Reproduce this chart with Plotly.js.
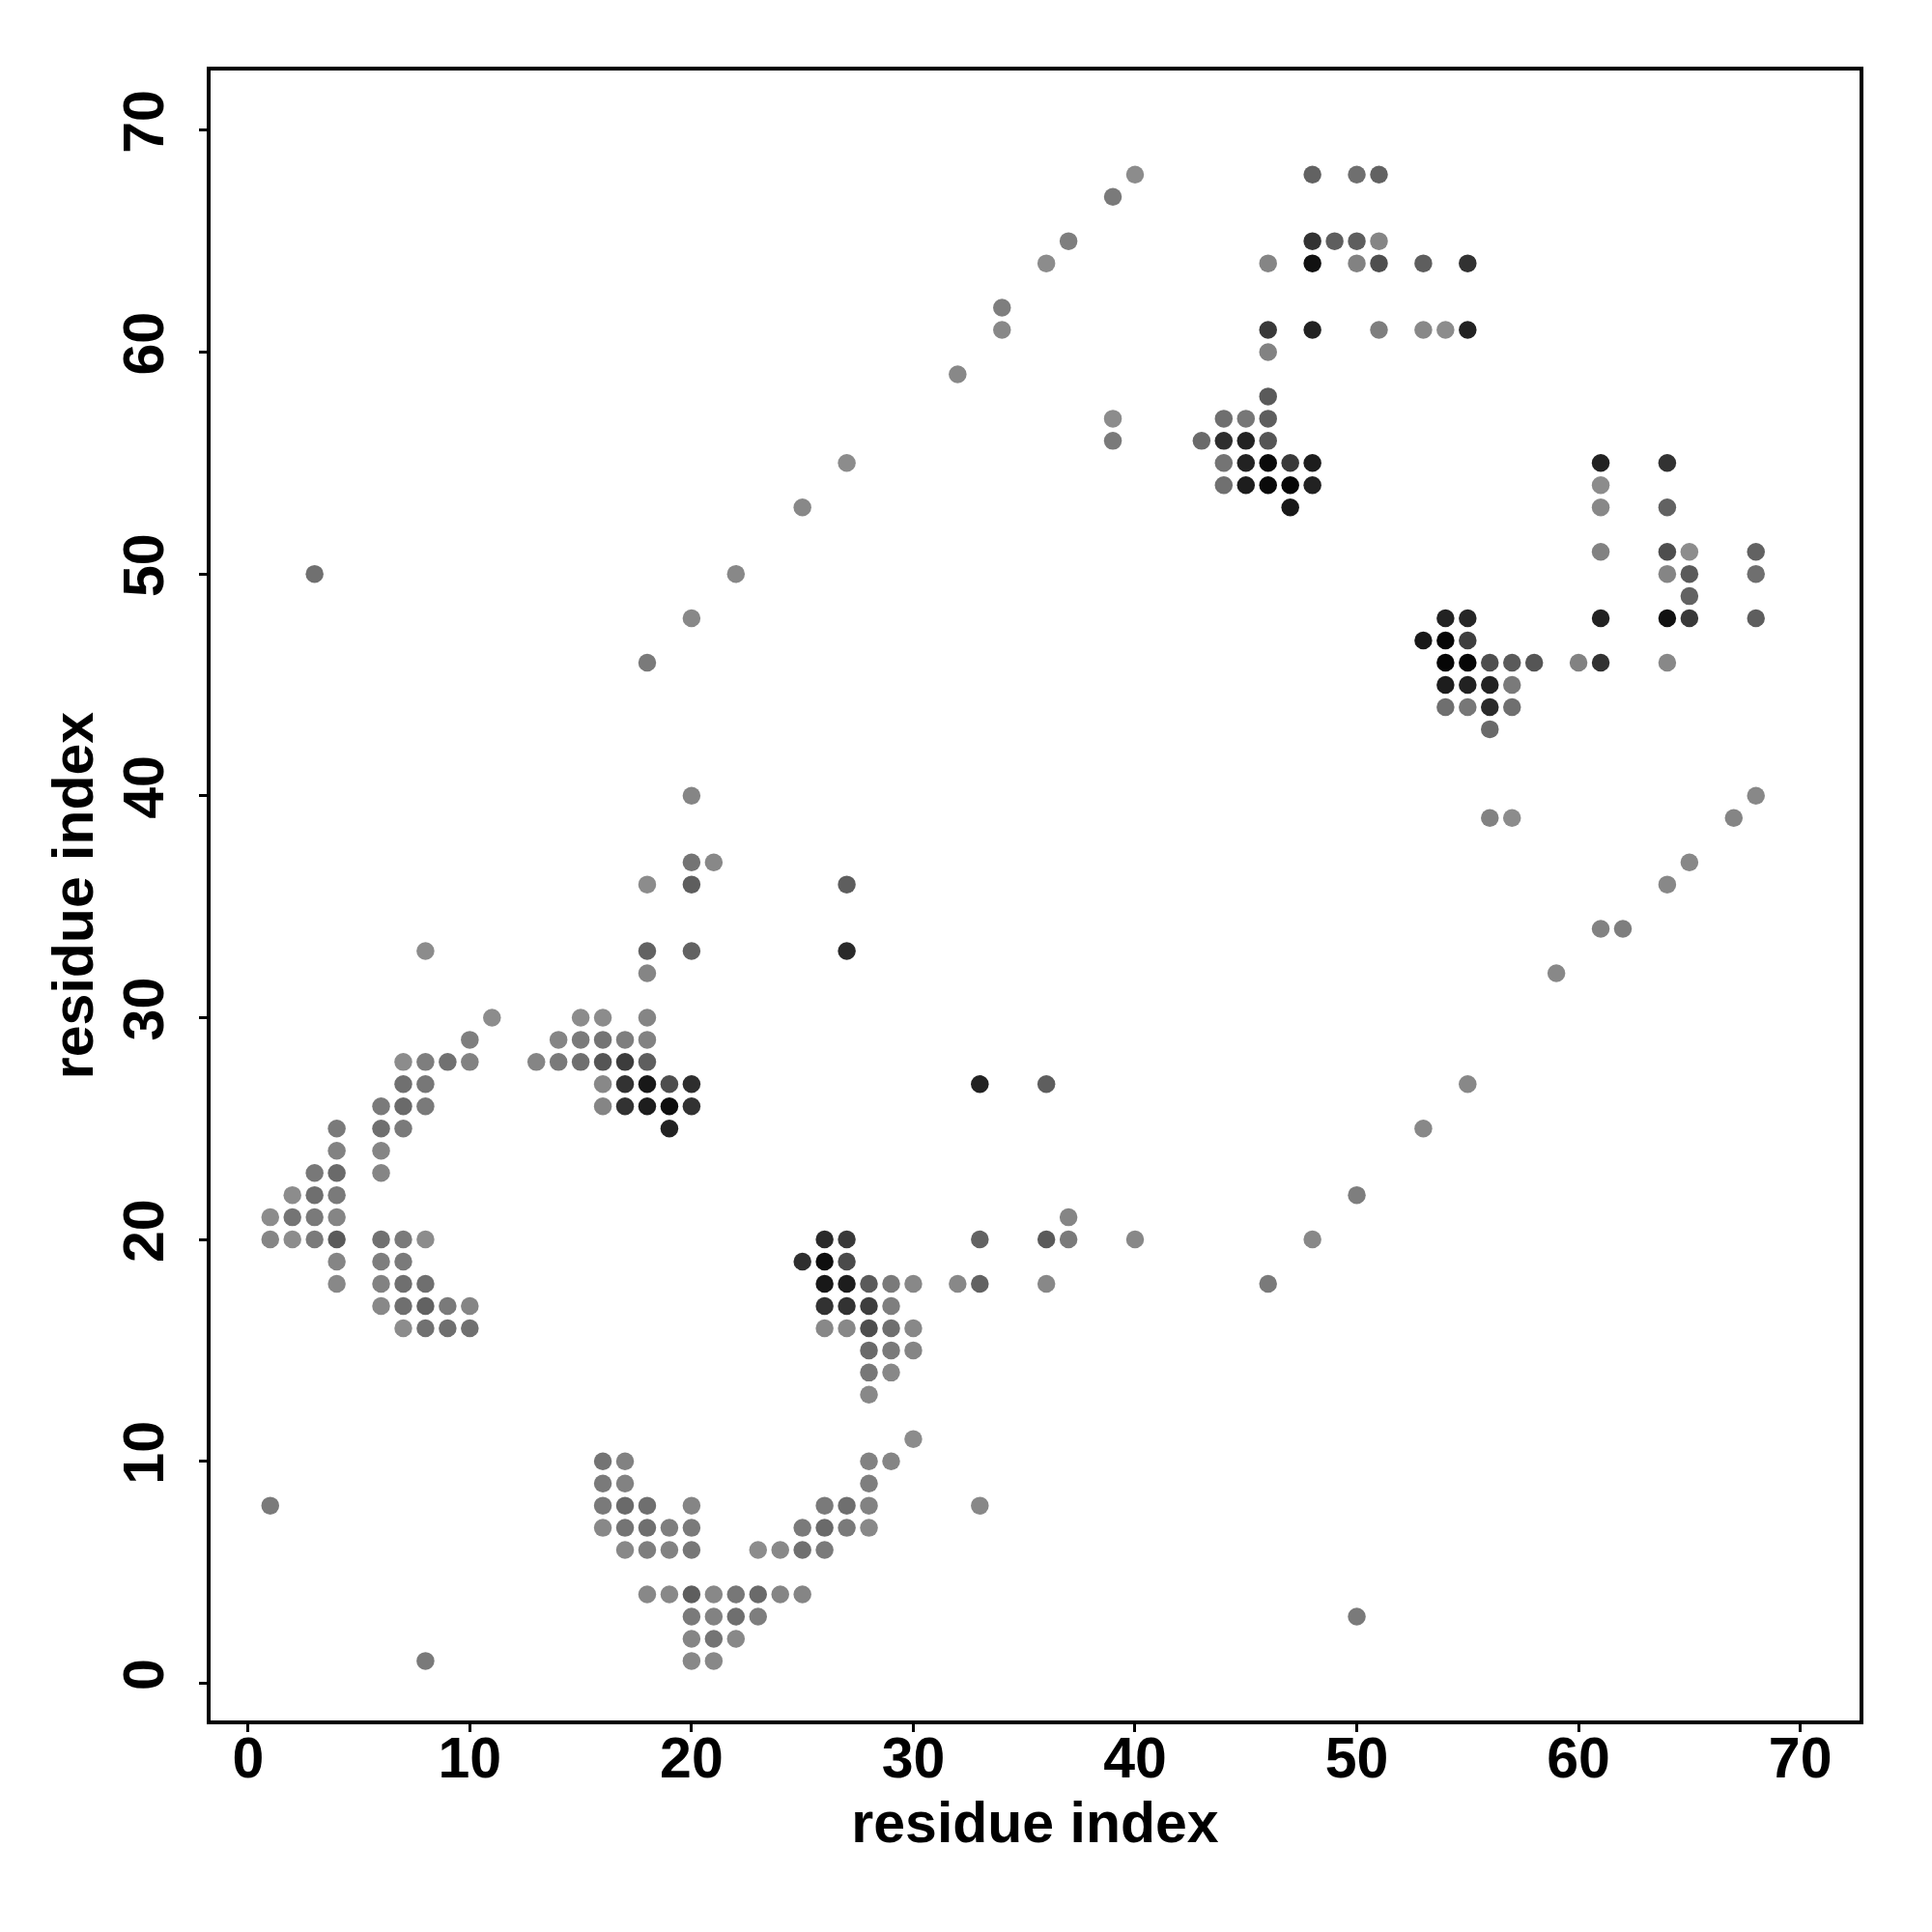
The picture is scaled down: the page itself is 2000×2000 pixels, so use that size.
<!DOCTYPE html>
<html>
<head>
<meta charset="utf-8">
<script src="https://cdn.plot.ly/plotly-3.0.1.min.js"></script>
<style>html,body{margin:0;padding:0;background:#fff;}</style>
</head>
<body>
<div id="chart" style="width:2000px;height:2000px;"></div>
<script>
// residue i (x), residue j (y), contact strength (0 = weak/light, 1 = strong/dark)
const resX = [
  8,11,10, 7,8,9,10, 7,8, 6,7,8, 4,6,7, 4,6, 3,4,6, 2,3,4, 1,2,3,4, 1,2,3,4,6,7,8, 4,6,7, 4,6,7,8, 6,7,8,9,10, 7,8,9,10,
  20, 20,21, 18,20, 18,20, 18, 15,16,18, 14,15,16,17,18, 13,14,15,16,17,18, 16,17,18,19,20, 16,17,18,19,20, 19,
  30, 16,17,28,29, 16,17,28, 16,17,18,20,26,27,28, 16,17,18,19,20,25,26,27,28, 17,18,19,20,23,24,25,26, 18,19,20,21,22,23,24,25, 20,21,22,23, 20,21,22, 20,21,
  33,36, 37, 26,27,33,36,37, 25,26,27, 26,27,28,29,30,32,33,36, 26,27,28,29, 26,27,28,29,30, 28,29,30, 28,29, 28,
  48,50,51, 48,49,50,51, 46,48,50,51,53,55, 46,48,51,53,54,55, 46, 46, 44,45,46, 43,44,45,46, 44,45,46,47,48, 44,45,46,47,48, 47,
  61,64, 61, 61,64, 61,64,65,68, 64,65,68, 65, 61,64,65,68, 54,55, 53,54,55, 54,55,56,57,58,60,61,64, 54,55,56,57, 54,55,56,57, 56, 68,67,56,57,
  18,20,22,25,27,32,34,34,36,37,39,40,39,39,
  40,48,46,50,53,55,59,61,62,64,65,
  3,1,8,33,50,27,27
];
const resY = [
  33,30,29, 28,28,28,28, 27,27, 26,26,26, 25,25,25, 24,24, 23,23,23, 22,22,22, 21,21,21,21, 20,20,20,20,20,20,20, 19,19,19, 18,18,18,18, 17,17,17,17,17, 16,16,16,16,
  40, 37,37, 36,36, 33,33, 32, 30,30,30, 29,29,29,29,29, 28,28,28,28,28,28, 27,27,27,27,27, 26,26,26,26,26, 25,
  11, 10,10,10,10, 9,9,9, 8,8,8,8,8,8,8, 7,7,7,7,7,7,7,7,7, 6,6,6,6,6,6,6,6, 4,4,4,4,4,4,4,4, 3,3,3,3, 2,2,2, 1,1,
  27,27, 21, 20,20,20,20,20, 19,19,19, 18,18,18,18,18,18,18,18, 17,17,17,17, 16,16,16,16,16, 15,15,15, 14,14, 13,
  68,68,68, 65,65,65,65, 64,64,64,64,64,64, 61,61,61,61,61,61, 60, 58, 57,57,57, 56,56,56,56, 55,55,55,55,55, 54,54,54,54,54, 53,
  55,55, 54, 53,53, 51,51,51,51, 50,50,50, 49, 48,48,48,48, 48,48, 47,47,47, 46,46,46,46,46,46,46,46, 45,45,45,45, 44,44,44,44, 43, 40,39,39,39,
  46,48,50,53,55,59,61,62,64,65,67,68,57,56,
  20,20,18,22,25,27,32,34,34,36,37,
  50,8,1,8,3,36,33
];
const strength = [
  0.0,0.0,0.1, 0.0,0.1,0.19,0.07, 0.2,0.15, 0.13,0.24,0.13, 0.13,0.21,0.13, 0.07,0.05, 0.14,0.24,0.05, 0.0,0.21,0.13, 0.0,0.17,0.13,0.05, 0.05,0.0,0.13,0.36,0.2,0.13,0.0, 0.05,0.1,0.13, 0.03,0.07,0.21,0.21, 0.03,0.21,0.3,0.13,0.05, 0.0,0.19,0.21,0.2,
  0.05, 0.17,0.03, 0.0,0.33, 0.3,0.3, 0.05, 0.0,0.0,0.05, 0.05,0.13,0.17,0.1,0.07, 0.05,0.13,0.21,0.39,0.57,0.33, 0.03,0.64,0.83,0.44,0.67, 0.05,0.64,0.79,0.9,0.64, 0.76,
  0.0, 0.17,0.07,0.07,0.05, 0.13,0.07,0.1, 0.13,0.24,0.21,0.05,0.13,0.21,0.07, 0.03,0.17,0.21,0.1,0.13,0.13,0.24,0.13,0.03, 0.03,0.1,0.07,0.15,0.0,0.03,0.2,0.13, 0.03,0.03,0.33,0.03,0.15,0.24,0.05,0.05, 0.13,0.07,0.21,0.1, 0.05,0.17,0.03, 0.03,0.03,
  0.76,0.33, 0.05, 0.7,0.59,0.3,0.36,0.13, 0.67,0.9,0.47, 0.83,0.79,0.36,0.13,0.03,0.03,0.3,0.03, 0.64,0.64,0.56,0.1, 0.03,0.03,0.44,0.21,0.03, 0.24,0.13,0.05, 0.15,0.03, 0.03,
  0.3,0.21,0.3, 0.64,0.33,0.33,0.05, 0.05,0.88,0.07,0.44,0.33,0.64, 0.59,0.76,0.1,0.03,0.0,0.76, 0.07, 0.36, 0.21,0.15,0.33, 0.24,0.67,0.76,0.39, 0.17,0.76,0.93,0.59,0.79, 0.2,0.79,0.93,0.96,0.76, 0.83,
  0.76,0.64, 0.0, 0.03,0.3, 0.07,0.44,0.0,0.3, 0.05,0.36,0.21, 0.3, 0.76,0.88,0.59,0.33, 0.76,0.73, 0.83,0.96,0.56, 0.96,0.96,0.44,0.36,0.39,0.07,0.64,0.03, 0.79,0.76,0.76,0.13, 0.21,0.15,0.7,0.21, 0.24, 0.03,0.05,0.07,0.0,
  0.13,0.03,0.03,0.03,0.0,0.03,0.03,0.1,0.0,0.1,0.13,0.0,0.0,0.13,
  0.03,0.03,0.13,0.1,0.03,0.03,0.03,0.07,0.1,0.03,0.03,
  0.2,0.13,0.13,0.03,0.13,0.33,0.7
];
const tickVals = [0, 10, 20, 30, 40, 50, 60, 70];
const axisLabel = 'residue index';

const font = {family: '"Liberation Sans", Arial, Helvetica, sans-serif', size: 59, color: '#000', weight: 700};

const trace = {
  x: resX, y: resY, type: 'scatter', mode: 'markers',
  marker: {
    size: 18.5,
    color: strength,
    cmin: 0, cmax: 1,
    colorscale: [[0, 'rgb(140,140,140)'], [1, 'rgb(0,0,0)']],
    showscale: false,
    line: {width: 0}
  },
  hoverinfo: 'x+y'
};

const axisCommon = {
  tickvals: tickVals,
  ticktext: tickVals.map(String),
  ticks: 'outside', ticklen: 9, tickwidth: 3, tickcolor: '#000',
  showgrid: false, zeroline: false, showline: false,
  tickfont: font,
  automargin: false
};

const layout = {
  width: 2000, height: 2000,
  paper_bgcolor: '#fff', plot_bgcolor: '#fff',
  margin: {l: 216, r: 73, t: 71, b: 217},
  showlegend: false,
  xaxis: Object.assign({}, axisCommon, {
    range: [-1.777, 72.76],
    ticklabelstandoff: -24,
    title: {text: axisLabel, font: font, standoff: 13}
  }),
  yaxis: Object.assign({}, axisCommon, {
    range: [-1.77, 72.78],
    tickangle: -90,
    ticklabelstandoff: 13,
    title: {text: axisLabel, font: font, standoff: 0}
  }),
  shapes: [{
    type: 'rect', xref: 'paper', yref: 'paper', x0: 0, x1: 1, y0: 0, y1: 1,
    line: {color: '#000', width: 4}, fillcolor: 'rgba(0,0,0,0)', layer: 'above'
  }]
};

Plotly.newPlot('chart', [trace], layout, {displayModeBar: false, staticPlot: true});
</script>
</body>
</html>
